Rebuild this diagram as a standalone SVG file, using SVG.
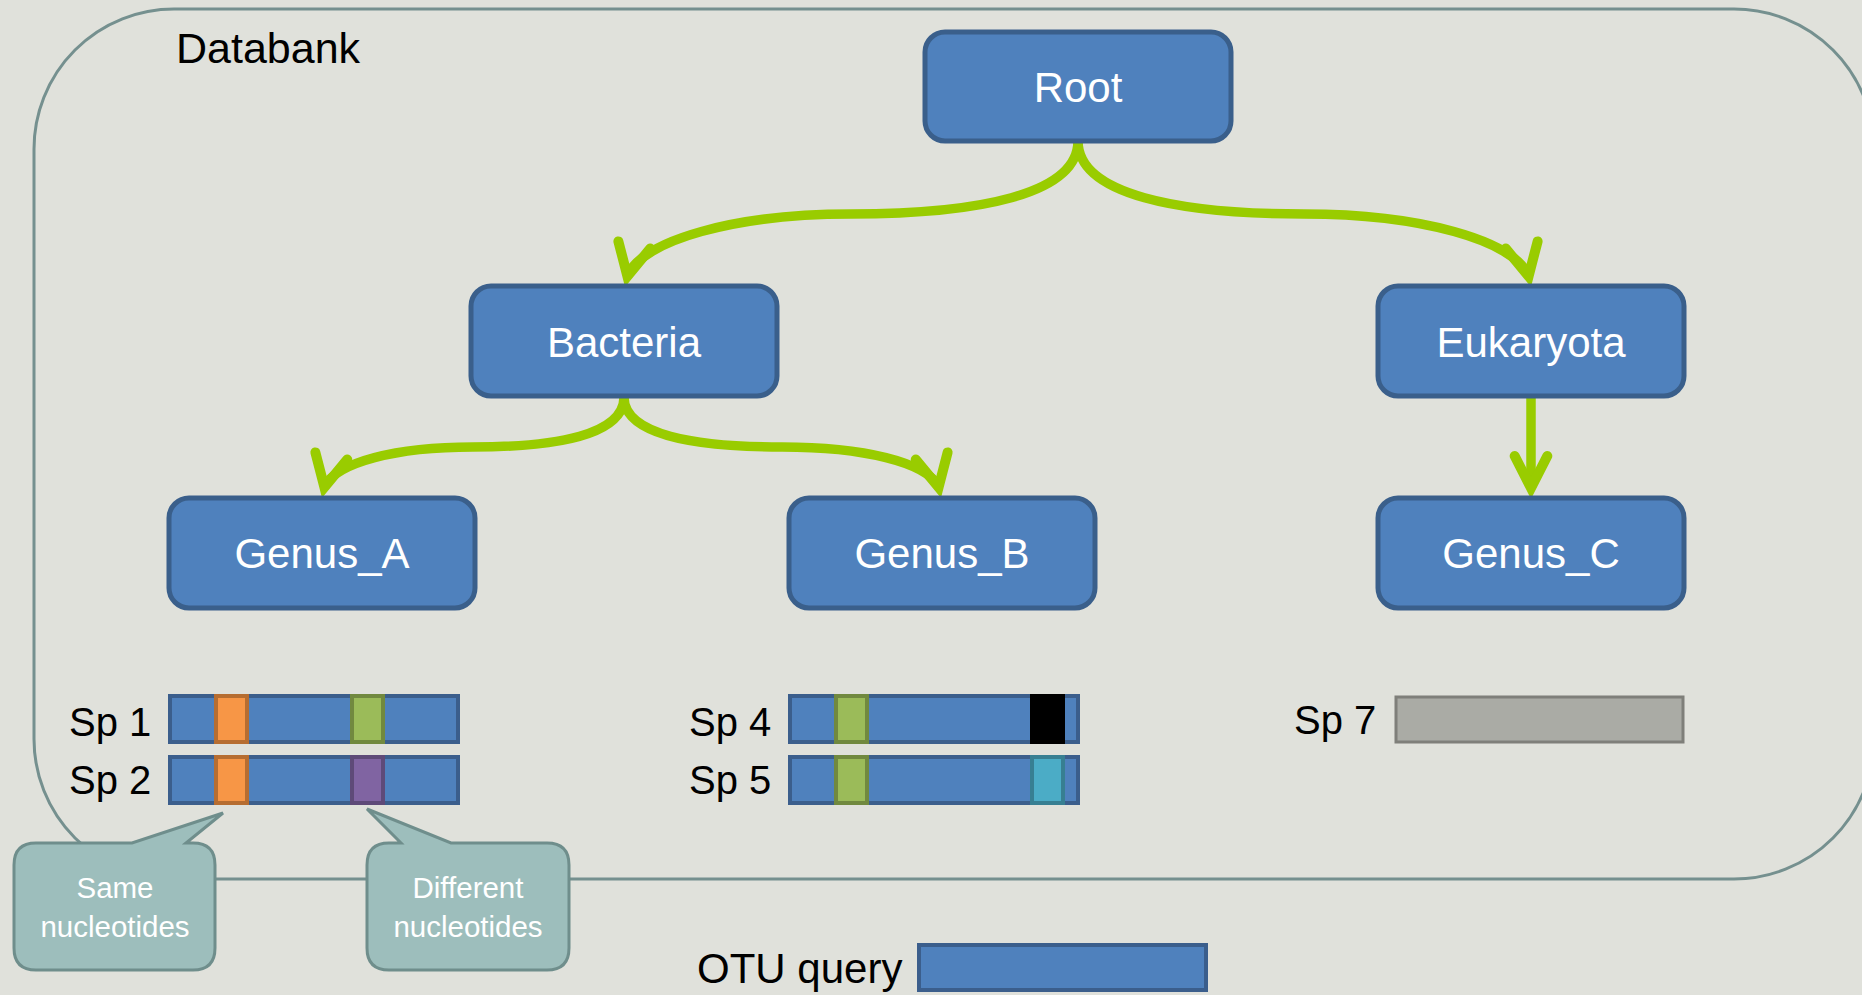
<svg xmlns="http://www.w3.org/2000/svg" width="1862" height="995" viewBox="0 0 1862 995">
<style>
.box{fill:#4F81BD;stroke:#3A5F8B;stroke-width:5}
.lbl{font-family:"Liberation Sans",Arial,sans-serif;font-size:42px;fill:#fff;text-anchor:middle}
.blk{font-family:"Liberation Sans",Arial,sans-serif;font-size:40px;fill:#000}
.conn{fill:none;stroke:#99CC00;stroke-width:9.5}
.head{fill:none;stroke:#99CC00;stroke-width:10;stroke-linecap:round;stroke-linejoin:miter;stroke-miterlimit:6}
.bar{fill:#4F81BD;stroke:#3B5E8C;stroke-width:4}
.or{fill:#F79646;stroke:#B66D31;stroke-width:4}
.gr{fill:#9BBB59;stroke:#71893F;stroke-width:4}
.pu{fill:#8064A2;stroke:#5E4A78;stroke-width:4}
.te{fill:#4BACC6;stroke:#377F92;stroke-width:4}
.bk{fill:#000;stroke:#000;stroke-width:4}
.call{fill:#9DBEBC;stroke:#6F8E8C;stroke-width:3}
.ct{font-family:"Liberation Sans",Arial,sans-serif;font-size:29.5px;fill:#fff;text-anchor:middle}
</style>
<rect width="1862" height="995" fill="#E0E1DB"/>
<g id="databank">
<rect x="34" y="9" width="1840" height="870" rx="140" ry="140" fill="none" stroke="#75908F" stroke-width="3"/>
<text x="176" y="63" class="blk" style="font-size:43px">Databank</text>
</g>
<g id="connectors">
<path class="conn" d="M1078,141 C1078,195 976,214 851,214 C735,214 643,240 627,276"/>
<polyline class="head" points="618.4,241.4 627.4,276.3 650.3,248.5"/>
<path class="conn" d="M1078,141 C1078,195 1180,214 1304,214 C1420,214 1513,240 1529,276"/>
<polyline class="head" points="1537.6,241.4 1528.6,276.3 1505.7,248.5"/>
<path class="conn" d="M624,397 C624,435 556,447 473,447 C396,447 337,462 324,487"/>
<polyline class="head" points="315.4,452.4 324.4,487.3 347.3,459.5"/>
<path class="conn" d="M624,397 C624,435 695,447 782,447 C863,447 926,462 939,487"/>
<polyline class="head" points="947.6,452.4 938.6,487.3 915.7,459.5"/>
<path class="conn" d="M1531,397 L1531,488"/>
<polyline class="head" points="1514.7,456 1531,488 1547.3,456"/>
</g>
<g id="root"><rect class="box" x="925" y="32" width="306" height="109" rx="20"/><text class="lbl" x="1078" y="102">Root</text></g>
<g id="bacteria"><rect class="box" x="471" y="286" width="306" height="110" rx="20"/><text class="lbl" x="624" y="357">Bacteria</text></g>
<g id="eukaryota"><rect class="box" x="1378" y="286" width="306" height="110" rx="20"/><text class="lbl" x="1531" y="357">Eukaryota</text></g>
<g id="genus_a"><rect class="box" x="169" y="498" width="306" height="110" rx="20"/><text class="lbl" x="322" y="568">Genus_A</text></g>
<g id="genus_b"><rect class="box" x="789" y="498" width="306" height="110" rx="20"/><text class="lbl" x="942" y="568">Genus_B</text></g>
<g id="genus_c"><rect class="box" x="1378" y="498" width="306" height="110" rx="20"/><text class="lbl" x="1531" y="568">Genus_C</text></g>
<g id="sp1"><text class="blk" x="69" y="736">Sp 1</text><rect class="bar" x="170" y="696" width="288" height="46"/><rect class="or" x="216" y="696" width="31" height="46"/><rect class="gr" x="352" y="696" width="31" height="46"/></g>
<g id="sp2"><text class="blk" x="69" y="794">Sp 2</text><rect class="bar" x="170" y="757" width="288" height="46"/><rect class="or" x="216" y="757" width="31" height="46"/><rect class="pu" x="352" y="757" width="31" height="46"/></g>
<g id="sp4"><text class="blk" x="689" y="736">Sp 4</text><rect class="bar" x="790" y="696" width="288" height="46"/><rect class="gr" x="836" y="696" width="31" height="46"/><rect class="bk" x="1032" y="696" width="31" height="46"/></g>
<g id="sp5"><text class="blk" x="689" y="794">Sp 5</text><rect class="bar" x="790" y="757" width="288" height="46"/><rect class="gr" x="836" y="757" width="31" height="46"/><rect class="te" x="1032" y="757" width="31" height="46"/></g>
<g id="sp7"><text class="blk" x="1294" y="734">Sp 7</text><rect x="1396" y="697" width="287" height="45" fill="#AAABA5" stroke="#7F7F7A" stroke-width="3"/></g>
<g id="otu"><text class="blk" x="697" y="983" style="font-size:42px">OTU query</text><rect class="bar" x="919" y="945" width="287" height="45"/></g>
<g id="same">
<path class="call" d="M36,843 L132,843 L223,813 L186,843 L193,843 Q215,843 215,865 L215,948 Q215,970 193,970 L36,970 Q14,970 14,948 L14,865 Q14,843 36,843 Z"/>
<text class="ct" x="115" y="898">Same</text><text class="ct" x="115" y="937">nucleotides</text>
</g>
<g id="different">
<path class="call" d="M389,843 L401,843 L367,809 L451,843 L547,843 Q569,843 569,865 L569,948 Q569,970 547,970 L389,970 Q367,970 367,948 L367,865 Q367,843 389,843 Z"/>
<text class="ct" x="468" y="898">Different</text><text class="ct" x="468" y="937">nucleotides</text>
</g>
</svg>
